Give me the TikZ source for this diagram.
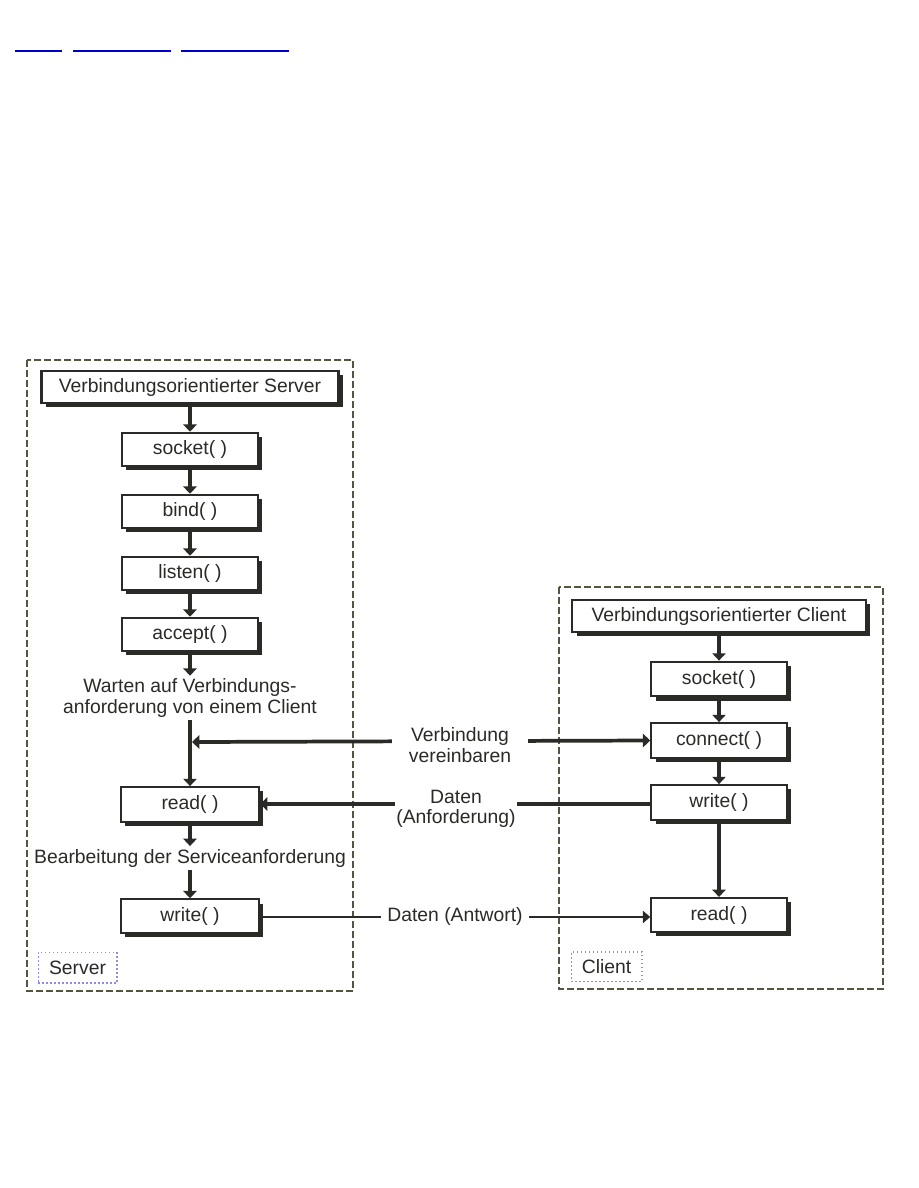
\documentclass[tikz,border=0pt]{standalone}
\usepackage{fontspec}
\setmainfont{Liberation Sans}
\usetikzlibrary{arrows.meta,shadows}
\definecolor{ink}{HTML}{2A2A26}
\definecolor{dashc}{HTML}{55553F}
\definecolor{linkblue}{HTML}{0000CC}
\begin{document}
\begin{tikzpicture}[x=0.75pt,y=-0.75pt,
  font=\fontsize{14.5}{15.5}\selectfont, text=ink,
  fbox/.style={draw=ink, line width=1.6pt, fill=white, minimum width=102pt,
    minimum height=25pt, inner sep=0pt,
    drop shadow={shadow xshift=3.2pt, shadow yshift=-3.2pt, fill=ink, opacity=1}},
  flow/.style={draw=ink, line width=2.8pt, -{Triangle[width=10pt,length=5.5pt]}},
  plain/.style={draw=ink, line width=2.8pt},
  thinflow/.style={draw=ink, line width=1.8pt, -{Triangle[width=9pt,length=5.5pt]}},
  dbox/.style={draw=dashc, line width=1.3pt, dash pattern=on 5pt off 2.5pt},
  lbl/.style={fill=white, align=center, inner sep=0pt, minimum height=30pt},
  tag/.style={draw=linkblue!45, dotted, line width=1pt, inner sep=0pt}
]
\useasboundingbox (0,0) rectangle (918,1188);

% top link lines
\draw[linkblue, line width=1.5pt] (15,51) -- (62,51);
\draw[linkblue, line width=1.5pt] (73,51) -- (171,51);
\draw[linkblue, line width=1.5pt] (181,51) -- (289,51);

% dashed frames
\draw[dbox] (27,360) rectangle (353,991);
\draw[dbox] (559,587) rectangle (883,989);

% server
\node[fbox, minimum width=222.75pt, minimum height=24pt] (shead) at (190,387) {Verbindungsorientierter Server};
\node[fbox] (ssock) at (190,449.5) {socket( )};
\node[fbox] (sbind) at (190,511.5) {bind( )};
\node[fbox] (slist) at (190,573.5) {listen( )};
\node[fbox] (sacc) at (190,634.5) {accept( )};
\node[align=center, inner sep=2pt] (swait) at (190,698) {Warten auf Verbindungs-\\anforderung von einem Client};
\node[fbox, minimum width=103.5pt, minimum height=26pt] (sread) at (190,804.5) {read( )};
\node[inner sep=2pt] (sproc) at (190,858) {Bearbeitung der Serviceanforderung};
\node[fbox, minimum width=103.5pt] (swrite) at (190,916) {write( )};
\node[tag, minimum width=59pt, minimum height=23pt] (slab) at (77.5,967.5) {Server};
\coordinate (cS) at (192,742);

\draw[flow] (shead) -- (ssock);
\draw[flow] (ssock) -- (sbind);
\draw[flow] (sbind) -- (slist);
\draw[flow] (slist) -- (sacc);
\draw[flow] (sacc) -- (swait);
\draw[flow] (swait) -- (sread);
\draw[flow] (sread) -- (sproc);
\draw[flow] (sproc) -- (swrite);

% client
\node[fbox, minimum width=220pt, minimum height=24pt] (chead) at (719,616) {Verbindungsorientierter Client};
\node[fbox, minimum width=101.5pt, minimum height=26pt] (csock) at (719,679) {socket( )};
\node[fbox, minimum width=101.5pt, minimum height=26pt] (cconn) at (719,740.5) {connect( )};
\node[fbox, minimum width=101.5pt, minimum height=26pt] (cwrite) at (719,802.5) {write( )};
\node[fbox, minimum width=101.5pt, minimum height=25.5pt] (cread) at (719,915) {read( )};
\node[tag, minimum width=53pt, minimum height=22pt] (clab) at (606.5,966.5) {Client};

\draw[flow] (chead) -- (csock);
\draw[flow] (csock) -- (cconn);
\draw[flow] (cconn) -- (cwrite);
\draw[flow] (cwrite) -- (cread);

% cross connectors
\draw[plain, {Triangle[width=10pt,length=5.5pt]}-{Triangle[width=10pt,length=5.5pt]}] (cS) -- (cconn.west);
\draw[flow] (cwrite.west |- 0,804) -- (sread.east |- 0,804);
\draw[thinflow] (swrite.east |- 0,917) -- (cread.west |- 0,917);

\node[lbl, minimum width=102pt] (lverb) at (460,745) {Verbindung\\vereinbaren};
\node[lbl, minimum width=91.5pt] (lanf) at (456,809) {Daten\\(Anforderung)};
\node[lbl, minimum width=111pt, minimum height=18pt] (lant) at (455,916) {Daten (Antwort)};
\end{tikzpicture}
\end{document}
